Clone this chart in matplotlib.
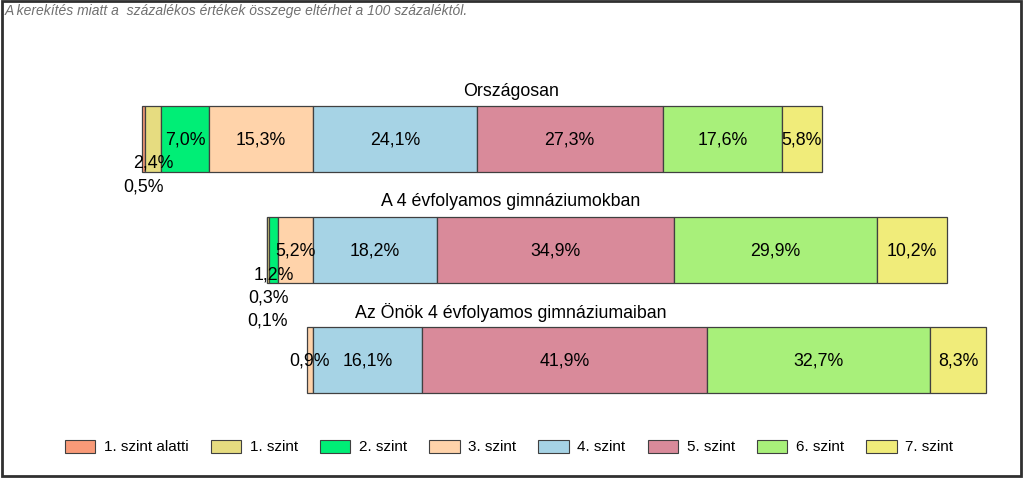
import matplotlib.pyplot as plt
from matplotlib.patches import Patch, Rectangle

plt.rcParams['font.family'] = ['Liberation Sans', 'DejaVu Sans']

# Adatok
groups = ["Országosan", "A 4 évfolyamos gimnáziumokban", "Az Önök 4 évfolyamos gimnáziumaiban"]
levels = ["1. szint alatti", "1. szint", "2. szint", "3. szint",
          "4. szint", "5. szint", "6. szint", "7. szint"]
orszagos = [0.5, 2.4, 7.0, 15.3, 24.1, 27.3, 17.6, 5.8]
gimn4 = [0.1, 0.3, 1.2, 5.2, 18.2, 34.9, 29.9, 10.2]
onok4 = [0.0, 0.0, 0.0, 0.9, 16.1, 41.9, 32.7, 8.3]
colors = ["#F99A78", "#E6DC80", "#00EE76", "#FFD3AA",
          "#A6D3E5", "#D98A9A", "#A8F07A", "#F0EC7A"]
note = "A kerekítés miatt a  százalékos értékek összege eltérhet a 100 százaléktól."

series = [orszagos, gimn4, onok4]

# Elrendezés (pixelben, y lefelé nő)
px_per_pct = 6.8
x_zero = 313
bar_y = [139, 250, 360]
bar_h = 66
# kis szeletek címkéinek lefelé tolása (sorok száma), szeletenként
label_drop = [[2, 1, 0, 0, 0, 0, 0, 0],
              [3, 2, 1, 0, 0, 0, 0, 0],
              [0, 0, 0, 0, 0, 0, 0, 0]]

fig = plt.figure(figsize=(10.24, 4.78), dpi=100)
ax = fig.add_axes([0, 0, 1, 1])
ax.set_xlim(-x_zero / px_per_pct, (1024 - x_zero) / px_per_pct)
ax.set_ylim(478, 0)
ax.axis("off")

for g, (name, vals) in enumerate(zip(groups, series)):
    left = -sum(vals[:4])
    for i, v in enumerate(vals):
        if v > 0:
            ax.barh(bar_y[g], v, left=left, height=bar_h, color=colors[i],
                    edgecolor="#404040", linewidth=0.9)
            ly = bar_y[g] + 1 + label_drop[g][i] * 23.5
            ax.text(left + v / 2, ly, f"{v:.1f}%".replace(".", ","),
                    ha="center", va="center", fontsize=12.8, color="black")
        left += v
    ax.text(511 / px_per_pct - x_zero / px_per_pct, bar_y[g] - bar_h / 2 - 15, name,
            ha="center", va="center", fontsize=12.8)

fig.text(0.005, 0.978, note, ha="left", va="center", fontsize=10,
         style="italic", color="#707070")

handles = [Patch(facecolor=c, edgecolor="#404040", linewidth=0.8) for c in colors]
fig.legend(handles, levels, loc="center", bbox_to_anchor=(0.497, 0.065), ncol=8,
           frameon=False, fontsize=11, handlelength=2.0, handleheight=0.95,
           handletextpad=0.55, columnspacing=1.45)

fig.patches.append(Rectangle((0.0015, 0.004), 0.996, 0.993, transform=fig.transFigure,
                             fill=False, edgecolor="#303030", linewidth=2))

fig.savefig("out.png", dpi=100)
